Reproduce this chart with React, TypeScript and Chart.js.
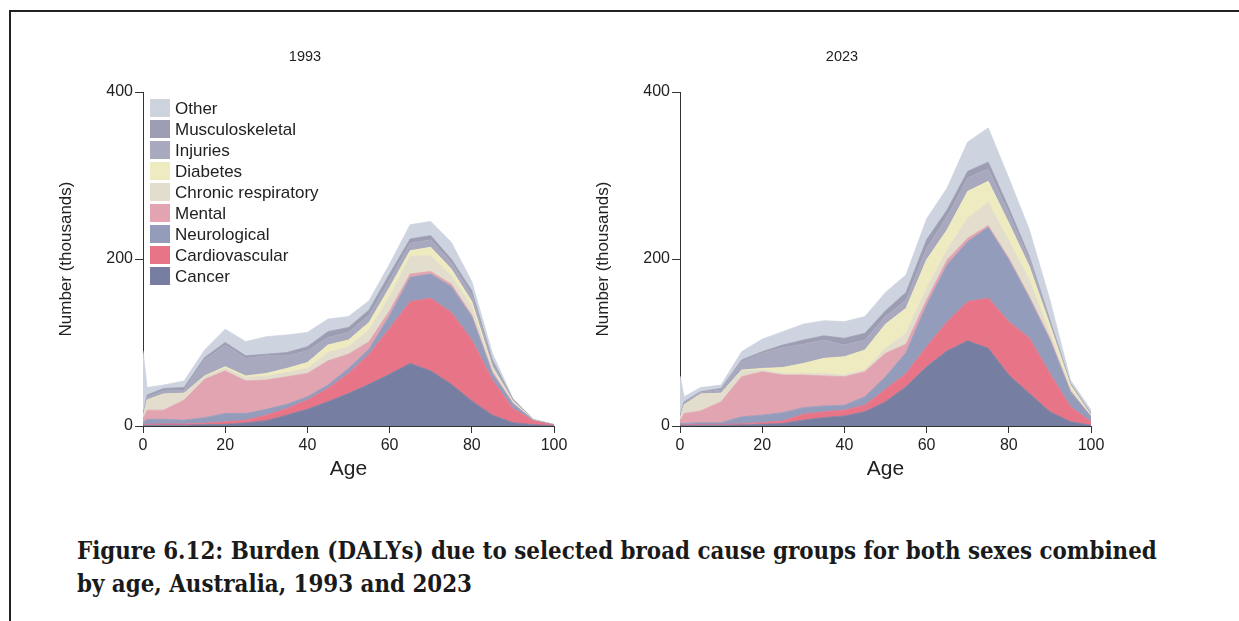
import React, { useEffect, useRef } from "react";
import { Chart, registerables } from "chart.js";

Chart.register(...registerables);

// Age points (years) at which DALYs are plotted
const ages = [0, 1, 5, 10, 15, 20, 25, 30, 35, 40, 45, 50, 55, 60, 65, 70, 75, 80, 85, 90, 95, 100];

const causes = [
  "Cancer",
  "Cardiovascular",
  "Neurological",
  "Mental",
  "Chronic respiratory",
  "Diabetes",
  "Injuries",
  "Musculoskeletal",
  "Other",
];

const causeColours = [
  "#767ea1",
  "#e87488",
  "#939cbb",
  "#e1a4b0",
  "#e2ddcc",
  "#efebc0",
  "#a8a9be",
  "#9c9db3",
  "#cdd3df",
];

// DALYs (thousands) by cause, 1993
const cancer1993 = [1, 0.8, 1, 1, 1.6, 2, 3.6, 6.4, 13, 20, 29, 39, 50, 62, 75, 66, 50, 30, 13, 4, 1.5, 0.3];
const cardio1993 = [1, 1.2, 1.5, 1.4, 1.6, 3, 3.4, 6.6, 8, 11, 16, 24, 36, 55, 74, 87, 86, 73, 42, 17, 4.5, 0.7];
const neuro1993 = [2, 6, 5.5, 4.6, 6.8, 10, 8, 7, 5, 4, 4, 6, 6, 15, 29, 29, 31, 28, 8, 5.5, 0.5, 0.3];
const mental1993 = [4, 11, 11, 24, 46, 51, 39, 35, 33, 28, 29, 17, 9, 6, 4, 3, 3, 2, 2, 1, 0.2, 0.1];
const respiratory1993 = [2, 12, 19, 8, 3, 3, 4, 5, 5, 6, 10, 9, 14, 17, 21, 19, 10, 10, 4, 1.5, 0.3, 0.1];
const diabetes1993 = [0, 0.3, 0.3, 0.3, 1, 2, 2, 3, 5, 7, 9, 8, 9, 11, 7, 10, 8, 6, 2, 1, 0.2, 0.05];
const injuries1993 = [2, 3.7, 3.7, 3.7, 19, 26, 21, 21, 15, 14, 9, 9, 9, 9, 9, 9, 8, 8, 4, 1, 0.2, 0.05];
const musculo1993 = [1, 2, 3, 3, 3, 3, 3, 2, 4, 5, 7, 6, 6, 7, 5, 5, 4, 5, 4, 1, 0.2, 0.1];
const other1993 = [77, 9, 4, 8, 9, 16, 17, 21, 21, 17, 15, 13, 11, 12, 17, 17, 20, 11, 8, 1, 0.4, 0.3];

// DALYs (thousands) by cause, 2023
const cancer2023 = [0.5, 0.8, 1, 1, 1.2, 2, 3, 7, 10, 12, 17, 29, 47, 71, 90, 102, 93, 61, 39, 17, 5, 1];
const cardio2023 = [0.5, 0.8, 1, 1, 1.3, 2, 3, 7, 7, 7, 8, 15, 16, 24, 35, 47, 60, 64, 66, 46, 18, 4];
const neuro2023 = [2, 1.4, 2, 2, 8.5, 9, 10, 8, 7, 6, 10, 15, 25, 50, 68, 72, 85, 74, 48, 40, 18, 6];
const mental2023 = [3, 12, 14, 25, 48, 52, 45, 39, 36, 34, 30, 28, 10, 6, 6, 4, 2, 2, 2, 2, 1, 0.6];
const respiratory2023 = [2, 10, 20, 10, 7, 2, 2, 2, 3, 2, 2, 6, 13, 14, 12, 24, 28, 21, 20, 6, 3, 0.4];
const diabetes2023 = [0, 0.3, 0.3, 0.3, 1, 2, 7, 12, 18, 22, 24, 29, 30, 34, 24, 32, 25, 21, 16, 10, 4, 1];
const injuries2023 = [2, 2.7, 1.7, 3.7, 10, 18, 24, 23, 22, 14, 12, 9, 10, 14, 16, 16, 15, 12, 8, 4, 1, 1];
const musculo2023 = [1, 1, 1, 2, 2, 2, 3, 5, 5, 8, 8, 7, 9, 10, 8, 8, 8, 6, 4, 2, 1, 1];
const other2023 = [49, 6, 5, 4, 10, 15, 16, 19, 18, 20, 20, 22, 21, 25, 26, 35, 41, 36, 32, 24, 4, 4];

const yTicks = [0, 200, 400];
const xTicks = [0, 20, 40, 60, 80, 100];

const series1993 = [cancer1993, cardio1993, neuro1993, mental1993, respiratory1993, diabetes1993, injuries1993, musculo1993, other1993];
const series2023 = [cancer2023, cardio2023, neuro2023, mental2023, respiratory2023, diabetes2023, injuries2023, musculo2023, other2023];

const sans = "'Liberation Sans', Arial, sans-serif";
const ink = "#222";
const axisInk = "#333";

// Key drawn inside the plot area, top entry first
const causeKey = {
  id: "causeKey",
  afterDraw(chart: any, _args: any, opts: any) {
    if (!opts || !opts.show) return;
    const { ctx, chartArea } = chart;
    const items = chart.data.datasets
      .map((d: any) => ({ label: d.label, colour: d.backgroundColor }))
      .reverse();
    ctx.save();
    ctx.font = `17px ${sans}`;
    ctx.textBaseline = "middle";
    ctx.textAlign = "left";
    items.forEach((it: any, k: number) => {
      const top = chartArea.top + 7 + k * 21;
      ctx.fillStyle = it.colour;
      ctx.fillRect(chartArea.left + 7, top, 20, 18);
      ctx.fillStyle = ink;
      ctx.fillText(it.label, chartArea.left + 32, top + 10);
    });
    ctx.restore();
  },
};

function makeConfig(title: string, series: number[][], withKey: boolean): any {
  return {
    type: "line",
    data: {
      datasets: series.map((vals, i) => ({
        label: causes[i],
        data: ages.map((a, j) => ({ x: a, y: vals[j] })),
        backgroundColor: causeColours[i],
        borderColor: causeColours[i],
        borderWidth: 0.8,
        pointRadius: 0,
        tension: 0,
        fill: i === 0 ? "origin" : "-1",
      })),
    },
    options: {
      responsive: false,
      animation: false,
      devicePixelRatio: 1,
      events: [],
      layout: { padding: { left: 16, right: 26, top: 0, bottom: 0 } },
      plugins: {
        legend: { display: false },
        tooltip: { enabled: false },
        title: {
          display: true,
          text: title,
          color: ink,
          font: { family: sans, size: 14.5, weight: "normal" },
          padding: { top: 8, bottom: 26.6 },
        },
        causeKey: { show: withKey },
      },
      scales: {
        x: {
          type: "linear",
          min: 0,
          max: 100,
          z: 1,
          afterBuildTicks: (s: any) => {
            s.ticks = xTicks.map((v) => ({ value: v }));
          },
          afterFit: (s: any) => {
            s.height = 60;
          },
          ticks: { color: ink, font: { family: sans, size: 16 }, padding: 3, maxRotation: 0 },
          grid: { drawOnChartArea: false, drawTicks: true, tickLength: 7, color: axisInk },
          border: { display: true, color: axisInk, width: 1 },
          title: {
            display: true,
            text: "Age",
            color: ink,
            font: { family: sans, size: 21 },
            padding: { top: 0, bottom: 4 },
          },
        },
        y: {
          stacked: true,
          min: 0,
          max: 400,
          z: 1,
          afterBuildTicks: (s: any) => {
            s.ticks = yTicks.map((v) => ({ value: v }));
          },
          afterFit: (s: any) => {
            s.width = 87;
          },
          ticks: { color: ink, font: { family: sans, size: 16 }, padding: 2 },
          grid: { drawOnChartArea: false, drawTicks: true, tickLength: 8, color: axisInk },
          border: { display: true, color: axisInk, width: 1 },
          title: {
            display: true,
            text: "Number (thousands)",
            color: ink,
            font: { family: sans, size: 17 },
            padding: { top: 0, bottom: 0 },
          },
        },
      },
    },
    plugins: [causeKey],
  };
}

function AgePanel(props: { title: string; series: number[][]; withKey: boolean; left: number }) {
  const ref = useRef<HTMLCanvasElement | null>(null);
  useEffect(() => {
    if (!ref.current) return;
    const chart = new Chart(ref.current, makeConfig(props.title, props.series, props.withKey));
    return () => chart.destroy();
  }, []);
  return (
    <canvas
      ref={ref}
      width={540}
      height={446}
      style={{ position: "absolute", left: props.left, top: 40, width: 540, height: 446 }}
    />
  );
}

export default function App() {
  return (
    <div
      style={{
        position: "absolute",
        left: 0,
        top: 0,
        width: 1239,
        height: 621,
        background: "#fff",
        overflow: "hidden",
      }}
    >
      <div
        style={{
          position: "absolute",
          left: 9,
          top: 10,
          width: 1240,
          height: 620,
          borderTop: "2px solid #222",
          borderLeft: "2px solid #222",
        }}
      />
      <AgePanel title="1993" series={series1993} withKey={true} left={40} />
      <AgePanel title="2023" series={series2023} withKey={false} left={577} />
      <div
        style={{
          position: "absolute",
          left: 77,
          top: 535,
          width: 1150,
          fontFamily: "'DejaVu Serif Condensed', 'DejaVu Serif', serif",
          fontWeight: "bold",
          fontSize: 23.8,
          lineHeight: "33px",
          color: "#1a1a1a",
          whiteSpace: "nowrap",
        }}
      >
        Figure 6.12: Burden (DALYs) due to selected broad cause groups for both sexes combined
        <br />
        by age, Australia, 1993 and 2023
      </div>
    </div>
  );
}
